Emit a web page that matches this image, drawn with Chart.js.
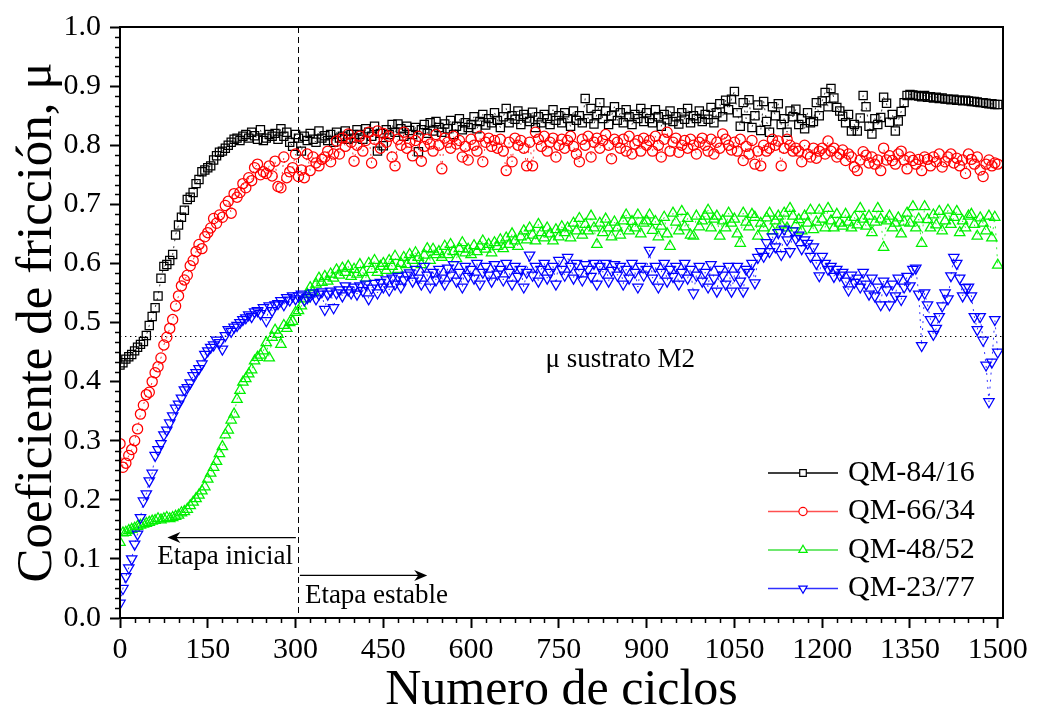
<!DOCTYPE html>
<html>
<head>
<meta charset="utf-8">
<script src="https://cdn.jsdelivr.net/npm/chart.js@4.4.1/dist/chart.umd.min.js"></script>
<style>
  html, body { margin: 0; padding: 0; background: #ffffff; }
  canvas { display: block; }
</style>
</head>
<body>
<canvas id="grafico" width="1037" height="713"></canvas>
<script>
// Intervalo de registro (ciclos entre lecturas consecutivas)
const PASO_CICLOS = 5;

// Coeficiente de fricción por ciclo, una lectura cada PASO_CICLOS
const qm8416 = [
  0.428, 0.432, 0.438, 0.442, 0.446, 0.452, 0.458, 0.463, 0.468, 0.478,
  0.495, 0.51, 0.525, 0.545, 0.575, 0.595, 0.598, 0.605, 0.615, 0.648,
  0.665, 0.678, 0.69, 0.708, 0.712, 0.72, 0.735, 0.742, 0.755, 0.758,
  0.762, 0.765, 0.775, 0.782, 0.788, 0.79, 0.795, 0.8, 0.805, 0.81,
  0.812, 0.808, 0.815, 0.818, 0.812, 0.822, 0.816, 0.81, 0.826, 0.808,
  0.812, 0.818, 0.815, 0.82, 0.81, 0.828, 0.815, 0.822, 0.805, 0.798,
  0.818, 0.812, 0.79, 0.815, 0.808, 0.82, 0.81, 0.805, 0.824, 0.812,
  0.816, 0.808, 0.818, 0.805, 0.822, 0.812, 0.815, 0.824, 0.81, 0.818,
  0.812, 0.826, 0.818, 0.81, 0.828, 0.822, 0.815, 0.832, 0.79, 0.82,
  0.799, 0.826, 0.818, 0.835, 0.822, 0.836, 0.828, 0.815, 0.832, 0.825,
  0.818, 0.83, 0.789, 0.826, 0.835, 0.82, 0.838, 0.824, 0.84, 0.83,
  0.822, 0.836, 0.828, 0.842, 0.818, 0.832, 0.845, 0.826, 0.838, 0.83,
  0.835, 0.848, 0.828, 0.84, 0.852, 0.834, 0.845, 0.838, 0.855, 0.842,
  0.83, 0.848, 0.862, 0.838, 0.85, 0.844, 0.858, 0.835, 0.852, 0.846,
  0.84, 0.856, 0.83, 0.848, 0.838, 0.852, 0.845, 0.835, 0.86, 0.842,
  0.85, 0.838, 0.855, 0.845, 0.832, 0.858, 0.842, 0.85, 0.838, 0.879,
  0.845, 0.862, 0.836, 0.852, 0.872, 0.845, 0.858, 0.835, 0.85, 0.865,
  0.842, 0.855, 0.838, 0.86, 0.848, 0.835, 0.852, 0.845, 0.862, 0.84,
  0.855, 0.845, 0.838, 0.86, 0.848, 0.832, 0.852, 0.843, 0.858, 0.84,
  0.848, 0.836, 0.855, 0.844, 0.862, 0.838, 0.85, 0.845, 0.858, 0.84,
  0.852, 0.844, 0.864, 0.838, 0.855, 0.87, 0.848, 0.876, 0.86, 0.878,
  0.891, 0.855, 0.832, 0.872, 0.845, 0.877, 0.83, 0.85, 0.868, 0.825,
  0.874, 0.84, 0.822, 0.865, 0.85, 0.87, 0.835, 0.845, 0.822, 0.858,
  0.848, 0.861, 0.835, 0.845, 0.828, 0.855, 0.838, 0.84, 0.872, 0.85,
  0.875, 0.889, 0.865, 0.896, 0.88, 0.864, 0.858, 0.849, 0.838, 0.852,
  0.824, 0.835, 0.824, 0.846, 0.884, 0.865, 0.832, 0.819, 0.845, 0.835,
  0.847, 0.881, 0.871, 0.839, 0.852, 0.824, 0.841, 0.857, 0.872, 0.884,
  0.886, 0.885, 0.884, 0.883, 0.882, 0.884, 0.881, 0.882, 0.88, 0.881,
  0.879, 0.88, 0.878, 0.878, 0.877, 0.878, 0.876, 0.876, 0.875, 0.876,
  0.875, 0.874, 0.874, 0.873, 0.872, 0.872, 0.871, 0.87, 0.87, 0.869,
  0.869
];

const qm6634 = [
  0.295, 0.255, 0.262, 0.275, 0.285, 0.3, 0.32, 0.345, 0.36, 0.378,
  0.382, 0.4, 0.415, 0.425, 0.44, 0.462, 0.475, 0.49, 0.505, 0.528,
  0.545, 0.562, 0.572, 0.58, 0.596, 0.605, 0.62, 0.632, 0.625, 0.645,
  0.652, 0.66, 0.676, 0.668, 0.682, 0.678, 0.698, 0.705, 0.685, 0.718,
  0.712, 0.72, 0.735, 0.728, 0.745, 0.74, 0.762, 0.768, 0.75, 0.755,
  0.752, 0.765, 0.748, 0.773, 0.73, 0.728, 0.78, 0.745, 0.755, 0.762,
  0.785, 0.747, 0.758, 0.745, 0.785, 0.757, 0.78, 0.77, 0.765, 0.776,
  0.78, 0.79, 0.772, 0.785, 0.807, 0.785, 0.812, 0.798, 0.819, 0.805,
  0.773, 0.8, 0.815, 0.79, 0.808, 0.822, 0.77, 0.81, 0.824, 0.795,
  0.82, 0.805, 0.815, 0.78, 0.765, 0.81, 0.8, 0.822, 0.795, 0.805,
  0.782, 0.808, 0.815, 0.773, 0.798, 0.81, 0.802, 0.79, 0.818, 0.8,
  0.76, 0.812, 0.805, 0.795, 0.815, 0.802, 0.808, 0.78, 0.798, 0.775,
  0.81, 0.8, 0.79, 0.815, 0.772, 0.805, 0.812, 0.798, 0.808, 0.795,
  0.81, 0.79, 0.757, 0.805, 0.772, 0.812, 0.8, 0.808, 0.795, 0.765,
  0.805, 0.765, 0.822, 0.81, 0.798, 0.815, 0.79, 0.805, 0.812, 0.78,
  0.8, 0.81, 0.795, 0.808, 0.815, 0.798, 0.785, 0.772, 0.81, 0.8,
  0.815, 0.78, 0.805, 0.812, 0.795, 0.808, 0.818, 0.8, 0.777, 0.81,
  0.805, 0.795, 0.81, 0.79, 0.815, 0.785, 0.802, 0.808, 0.79, 0.812,
  0.8, 0.808, 0.79, 0.815, 0.8, 0.78, 0.81, 0.822, 0.79, 0.805,
  0.812, 0.788, 0.8, 0.808, 0.795, 0.81, 0.8, 0.785, 0.805, 0.812,
  0.8, 0.79, 0.81, 0.785, 0.805, 0.795, 0.819, 0.81, 0.8, 0.792,
  0.805, 0.79, 0.81, 0.774, 0.798, 0.785, 0.808, 0.768, 0.79, 0.765,
  0.8, 0.79, 0.795, 0.81, 0.8, 0.807, 0.765, 0.795, 0.81, 0.8,
  0.79, 0.795, 0.79, 0.772, 0.8, 0.785, 0.78, 0.795, 0.778, 0.79,
  0.795, 0.785, 0.807, 0.79, 0.795, 0.78, 0.785, 0.792, 0.774, 0.785,
  0.78, 0.763, 0.757, 0.775, 0.789, 0.783, 0.77, 0.78, 0.768, 0.775,
  0.757, 0.795, 0.775, 0.782, 0.774, 0.768, 0.785, 0.79, 0.775, 0.76,
  0.78, 0.774, 0.768, 0.776, 0.757, 0.78, 0.776, 0.765, 0.78, 0.772,
  0.785, 0.763, 0.772, 0.78, 0.785, 0.77, 0.778, 0.765, 0.775, 0.752,
  0.785, 0.776, 0.768, 0.78, 0.758, 0.747, 0.768, 0.775, 0.765, 0.77,
  0.768
];

const qm4852 = [
  0.128, 0.144, 0.145, 0.148, 0.15, 0.152, 0.155, 0.157, 0.159, 0.16,
  0.162, 0.164, 0.165, 0.168, 0.166, 0.168, 0.17, 0.168, 0.17, 0.172,
  0.174, 0.178, 0.18, 0.184, 0.19, 0.196, 0.202, 0.208, 0.215, 0.222,
  0.235, 0.245, 0.255, 0.265, 0.278, 0.29, 0.31, 0.318, 0.335, 0.345,
  0.37, 0.385, 0.399, 0.405, 0.413, 0.42, 0.435, 0.441, 0.445, 0.452,
  0.466, 0.44, 0.475, 0.487, 0.48, 0.463, 0.495, 0.49, 0.5, 0.502,
  0.517, 0.52, 0.528, 0.54, 0.548, 0.559, 0.552, 0.565, 0.575, 0.568,
  0.578, 0.57, 0.582, 0.575, 0.589, 0.58, 0.592, 0.585, 0.595, 0.578,
  0.59, 0.582, 0.598, 0.585, 0.575, 0.6, 0.59, 0.605, 0.585, 0.595,
  0.6, 0.588, 0.605, 0.595, 0.612, 0.59, 0.6, 0.61, 0.598, 0.615,
  0.605, 0.618, 0.61, 0.598, 0.614, 0.625, 0.605, 0.624, 0.615, 0.62,
  0.61, 0.629, 0.615, 0.632, 0.62, 0.608, 0.625, 0.635, 0.618, 0.624,
  0.615, 0.63, 0.62, 0.629, 0.638, 0.624, 0.632, 0.618, 0.635, 0.629,
  0.64, 0.625, 0.643, 0.632, 0.65, 0.638, 0.629, 0.645, 0.655, 0.64,
  0.66, 0.648, 0.638, 0.666, 0.652, 0.643, 0.66, 0.65, 0.638, 0.657,
  0.645, 0.662, 0.652, 0.66, 0.643, 0.668, 0.655, 0.676, 0.648, 0.666,
  0.655, 0.68, 0.66, 0.632, 0.668, 0.652, 0.675, 0.66, 0.645, 0.67,
  0.66, 0.648, 0.672, 0.682, 0.655, 0.671, 0.66, 0.682, 0.65, 0.668,
  0.672, 0.682, 0.656, 0.671, 0.645, 0.663, 0.678, 0.65, 0.629, 0.685,
  0.67, 0.655, 0.688, 0.662, 0.676, 0.648, 0.646, 0.68, 0.662, 0.672,
  0.68, 0.69, 0.66, 0.675, 0.68, 0.646, 0.672, 0.66, 0.685, 0.668,
  0.675, 0.65, 0.634, 0.685, 0.67, 0.662, 0.683, 0.678, 0.646, 0.668,
  0.66, 0.677, 0.685, 0.655, 0.672, 0.68, 0.665, 0.685, 0.66, 0.693,
  0.68, 0.665, 0.674, 0.655, 0.68, 0.668, 0.69, 0.657, 0.67, 0.69,
  0.675, 0.66, 0.693, 0.672, 0.66, 0.683, 0.668, 0.663, 0.683, 0.67,
  0.66, 0.678, 0.665, 0.693, 0.675, 0.663, 0.68, 0.652, 0.67, 0.693,
  0.675, 0.627, 0.672, 0.68, 0.66, 0.668, 0.677, 0.65, 0.67, 0.685,
  0.668, 0.696, 0.66, 0.675, 0.634, 0.696, 0.674, 0.66, 0.682, 0.665,
  0.688, 0.655, 0.672, 0.69, 0.666, 0.678, 0.688, 0.652, 0.672, 0.66,
  0.68, 0.683, 0.666, 0.646, 0.677, 0.668, 0.655, 0.68, 0.643, 0.678,
  0.597
];

const qm2377 = [
  0.025, 0.05, 0.07, 0.085, 0.1, 0.125, 0.142, 0.17, 0.198, 0.21,
  0.232, 0.245, 0.275, 0.285, 0.295, 0.31, 0.318, 0.33, 0.342, 0.355,
  0.362, 0.372, 0.386, 0.39, 0.398, 0.41, 0.415, 0.422, 0.43, 0.446,
  0.452, 0.458, 0.462, 0.47, 0.466, 0.455, 0.478, 0.488, 0.485, 0.492,
  0.495, 0.5, 0.505, 0.508, 0.513, 0.51, 0.518, 0.52, 0.515, 0.525,
  0.503, 0.528, 0.52, 0.53, 0.532, 0.537, 0.53, 0.542, 0.538, 0.545,
  0.54, 0.545, 0.548, 0.538, 0.542, 0.545, 0.55, 0.54, 0.548, 0.552,
  0.522, 0.548, 0.553, 0.525, 0.55, 0.555, 0.545, 0.562, 0.555, 0.55,
  0.56, 0.548, 0.562, 0.554, 0.565, 0.54, 0.558, 0.566, 0.55, 0.568,
  0.56, 0.572, 0.555, 0.575, 0.565, 0.578, 0.56, 0.572, 0.58, 0.584,
  0.57, 0.59, 0.575, 0.565, 0.595, 0.58, 0.56, 0.585, 0.572, 0.59,
  0.575, 0.565, 0.592, 0.58, 0.598, 0.57, 0.585, 0.56, 0.595, 0.578,
  0.59, 0.575, 0.6, 0.565, 0.585, 0.595, 0.58, 0.57, 0.598, 0.582,
  0.59, 0.572, 0.6, 0.585, 0.565, 0.595, 0.578, 0.59, 0.56, 0.585,
  0.614, 0.58, 0.595, 0.57, 0.59, 0.6, 0.575, 0.585, 0.595, 0.565,
  0.605, 0.59, 0.58, 0.61, 0.595, 0.575, 0.6, 0.585, 0.572, 0.598,
  0.59, 0.578, 0.6, 0.565, 0.595, 0.585, 0.6, 0.57, 0.588, 0.598,
  0.58, 0.595, 0.565, 0.59, 0.575, 0.6, 0.585, 0.56, 0.595, 0.58,
  0.59, 0.622, 0.575, 0.595, 0.56, 0.585, 0.6, 0.57, 0.59, 0.578,
  0.595, 0.565, 0.585, 0.6, 0.575, 0.59, 0.55, 0.58, 0.595, 0.57,
  0.585, 0.56, 0.598, 0.575, 0.553, 0.59, 0.58, 0.565, 0.595, 0.553,
  0.58, 0.595, 0.57, 0.553, 0.59, 0.585, 0.6, 0.567, 0.61, 0.62,
  0.612, 0.635, 0.62, 0.645, 0.628, 0.652, 0.615, 0.658, 0.64, 0.62,
  0.655, 0.642, 0.648, 0.625, 0.64, 0.634, 0.612, 0.628, 0.6, 0.579,
  0.612, 0.6, 0.59, 0.595, 0.578, 0.59, 0.58, 0.585, 0.57, 0.555,
  0.58, 0.568, 0.575, 0.56, 0.585, 0.565, 0.548, 0.575, 0.545, 0.56,
  0.53, 0.57, 0.555, 0.53, 0.565, 0.545, 0.575, 0.539, 0.56, 0.578,
  0.562, 0.59, 0.592, 0.548, 0.461, 0.55, 0.53, 0.505, 0.48, 0.49,
  0.51, 0.528, 0.55, 0.54, 0.579, 0.61, 0.6, 0.575, 0.545, 0.559,
  0.56, 0.545, 0.51, 0.488, 0.51, 0.47, 0.428, 0.366, 0.433, 0.505,
  0.45
];

const nombresSeries = ['QM-84/16', 'QM-66/34', 'QM-48/52', 'QM-23/77'];
const ticksCiclos = [0, 150, 300, 450, 600, 750, 900, 1050, 1200, 1350, 1500];
const ticksMu = [0.0, 0.1, 0.2, 0.3, 0.4, 0.5, 0.6, 0.7, 0.8, 0.9, 1.0];

// Referencias dibujadas sobre la gráfica
const LIMITE_ETAPAS = 304;     // separación etapa inicial / estable (ciclos)
const MU_SUSTRATO = 0.477;     // coeficiente del sustrato M2

const FUENTE = "'Liberation Serif', 'Times New Roman', Times, serif";

const estilos = [
  { color: '#000000', linea: '#000000', punto: 'rect',     radio: 5.8, giro: 0 },
  { color: '#ff0000', linea: '#ff5050', punto: 'circle',   radio: 5.1, giro: 0 },
  { color: '#00f000', linea: '#40e040', punto: 'triangle', radio: 6.0, giro: 0 },
  { color: '#0000ff', linea: '#3030ff', punto: 'triangle', radio: 6.0, giro: 180 }
];

const valores = [qm8416, qm6634, qm4852, qm2377];

const datasets = valores.map((serie, k) => ({
  label: nombresSeries[k],
  data: serie.map((v, i) => ({ x: i * PASO_CICLOS, y: v })),
  showLine: true,
  borderColor: estilos[k].color,
  borderWidth: 0.8,
  borderDash: [2, 5],
  pointStyle: estilos[k].punto,
  pointRadius: estilos[k].radio,
  pointRotation: estilos[k].giro,
  pointBorderColor: estilos[k].color,
  pointBackgroundColor: 'rgba(0,0,0,0)',
  pointBorderWidth: 1.25,
  order: 4 - k
}));

function trazo(ctx, x1, y1, x2, y2) {
  ctx.beginPath();
  ctx.moveTo(x1, y1);
  ctx.lineTo(x2, y2);
  ctx.stroke();
}

// Marco del área de trazado y marcas menores de los ejes
const marcoYMenores = {
  id: 'marcoYMenores',
  afterDraw(chart) {
    const { ctx, chartArea: a, scales: { x, y } } = chart;
    ctx.save();
    ctx.strokeStyle = '#000';
    ctx.lineWidth = 1.5;
    for (let v = 25; v <= x.max; v += 25) {
      if (v % 150 === 0) continue;
      const px = Math.round(x.getPixelForValue(v)) + 0.5;
      trazo(ctx, px, a.bottom, px, a.bottom + 5);
    }
    for (let k = 1; k < 60; k++) {
      if (k % 6 === 0) continue;
      const py = Math.round(y.getPixelForValue(k / 60)) + 0.5;
      trazo(ctx, a.left - 5, py, a.left, py);
    }
    ctx.lineWidth = 2;
    ctx.strokeRect(a.left, a.top, a.right - a.left, a.bottom - a.top);
    ctx.restore();
  }
};

function flecha(ctx, x1, x2, y) {
  const dir = Math.sign(x2 - x1);
  ctx.lineWidth = 1.2;
  trazo(ctx, x1, y, x2 - dir * 6, y);
  ctx.beginPath();
  ctx.moveTo(x2, y);
  ctx.lineTo(x2 - dir * 13, y - 5.5);
  ctx.lineTo(x2 - dir * 9, y);
  ctx.lineTo(x2 - dir * 13, y + 5.5);
  ctx.closePath();
  ctx.fill();
}

// Líneas de referencia, flechas y rótulos de las etapas
const anotaciones = {
  id: 'anotaciones',
  beforeDatasetsDraw(chart) {
    const { ctx, chartArea: a, scales: { x, y } } = chart;
    ctx.save();
    ctx.strokeStyle = '#000';
    ctx.lineWidth = 1;
    ctx.setLineDash([6, 4]);
    const px = Math.round(x.getPixelForValue(LIMITE_ETAPAS)) + 0.5;
    trazo(ctx, px, a.top, px, a.bottom);
    ctx.setLineDash([1.4, 3.6]);
    const py = Math.round(y.getPixelForValue(MU_SUSTRATO)) + 0.5;
    trazo(ctx, a.left, py, a.right, py);
    ctx.restore();
  },
  afterDatasetsDraw(chart) {
    const { ctx, scales: { x, y } } = chart;
    ctx.save();
    ctx.fillStyle = '#000';
    ctx.strokeStyle = '#000';
    ctx.font = `27px ${FUENTE}`;
    ctx.textBaseline = 'alphabetic';
    const px = x.getPixelForValue(LIMITE_ETAPAS);
    const py = y.getPixelForValue(MU_SUSTRATO);

    ctx.textAlign = 'center';
    ctx.fillText('\u03bc sustrato M2', x.getPixelForValue(855), py + 31);

    flecha(ctx, px - 2, x.getPixelForValue(81), y.getPixelForValue(0.136));
    ctx.textAlign = 'right';
    ctx.fillText('Etapa inicial', px - 5, y.getPixelForValue(0.092));

    flecha(ctx, px + 2, x.getPixelForValue(525), y.getPixelForValue(0.072));
    ctx.textAlign = 'left';
    ctx.fillText('Etapa estable', px + 7, y.getPixelForValue(0.025));
    ctx.restore();
  }
};

// Leyenda con línea y marcador de cada serie
const leyenda = {
  id: 'leyendaSeries',
  afterDraw(chart) {
    const { ctx, chartArea: a } = chart;
    ctx.save();
    const x0 = a.right - 235, x1 = a.right - 165, xm = (x0 + x1) / 2;
    const yBase = a.bottom - 145, paso = 38.5;
    ctx.font = `30px ${FUENTE}`;
    ctx.textBaseline = 'middle';
    ctx.textAlign = 'left';
    chart.data.datasets.forEach((ds, k) => {
      const yy = yBase + k * paso;
      ctx.strokeStyle = estilos[k].linea;
      ctx.lineWidth = 1.3;
      ctx.setLineDash([]);
      trazo(ctx, x0, yy, x1, yy);
      ctx.fillStyle = '#ffffff';
      ctx.strokeStyle = estilos[k].color;
      ctx.lineWidth = 1.2;
      Chart.helpers.drawPoint(ctx, {
        pointStyle: estilos[k].punto,
        radius: estilos[k].radio * 0.8,
        rotation: estilos[k].giro,
        borderWidth: 1.2
      }, xm, yy);
      ctx.fillStyle = '#000';
      ctx.fillText(nombresSeries[k], x1 + 10, yy);
    });
    ctx.restore();
  }
};

new Chart(document.getElementById('grafico'), {
  type: 'scatter',
  data: { datasets },
  options: {
    responsive: false,
    animation: false,
    devicePixelRatio: 1,
    layout: { padding: { left: 0, right: 34, top: 22, bottom: 0 } },
    plugins: { legend: { display: false }, tooltip: { enabled: false } },
    scales: {
      x: {
        type: 'linear',
        min: 0,
        max: 1509,
        afterBuildTicks: s => { s.ticks = ticksCiclos.map(v => ({ value: v })); },
        afterFit: s => { s.height = 95; },
        ticks: {
          color: '#000',
          font: { family: FUENTE, size: 30 },
          padding: 4,
          autoSkip: false,
          maxRotation: 0,
          callback: v => String(v)
        },
        grid: { drawOnChartArea: false, tickLength: 10, tickWidth: 2, tickColor: '#000' },
        border: { display: true, color: '#000', width: 2 },
        title: {
          display: true,
          text: 'Numero de ciclos',
          color: '#000',
          font: { family: FUENTE, size: 50, lineHeight: 1.2 },
          padding: { top: 0, bottom: -8 }
        }
      },
      y: {
        type: 'linear',
        min: 0,
        max: 1,
        afterBuildTicks: s => { s.ticks = ticksMu.map(v => ({ value: v })); },
        afterFit: s => { s.width = 120; },
        ticks: {
          color: '#000',
          font: { family: FUENTE, size: 30 },
          padding: 9,
          callback: v => Number(v).toFixed(1)
        },
        grid: { drawOnChartArea: false, tickLength: 10, tickWidth: 2, tickColor: '#000' },
        border: { display: true, color: '#000', width: 2 },
        title: {
          display: true,
          text: 'Coeficiente de fricción, \u03bc',
          color: '#000',
          font: { family: FUENTE, size: 51, lineHeight: 1.2 },
          padding: { top: 7, bottom: 0 }
        }
      }
    }
  },
  plugins: [anotaciones, marcoYMenores, leyenda]
});
</script>
</body>
</html>
